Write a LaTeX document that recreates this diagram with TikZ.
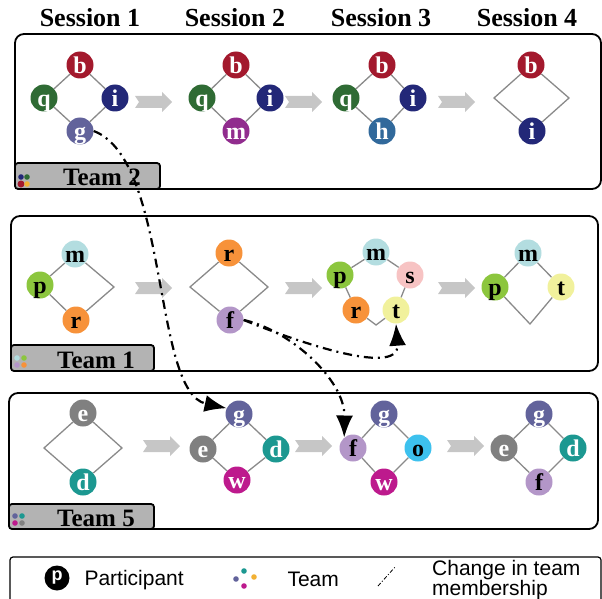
\documentclass[tikz,border=0pt]{standalone}
\usepackage{fontspec}
\setmainfont{Liberation Serif}
\setsansfont{Liberation Sans}
\usepackage{tikz}
\usetikzlibrary{arrows.meta}

\definecolor{pB}{HTML}{A3192D}
\definecolor{pQ}{HTML}{2F6B34}
\definecolor{pI}{HTML}{232878}
\definecolor{pG}{HTML}{62639B}
\definecolor{pMb}{HTML}{912C8E}
\definecolor{pH}{HTML}{31699B}
\definecolor{pM}{HTML}{B3DDE0}
\definecolor{pP}{HTML}{8CC63E}
\definecolor{pR}{HTML}{F7923A}
\definecolor{pF}{HTML}{B396C8}
\definecolor{pS}{HTML}{F7C3C3}
\definecolor{pT}{HTML}{F1F19C}
\definecolor{pE}{HTML}{808080}
\definecolor{pD}{HTML}{1C9891}
\definecolor{pW}{HTML}{BD1A8D}
\definecolor{pO}{HTML}{3DC1EE}
\definecolor{pY}{HTML}{F2B134}
\definecolor{ringgray}{HTML}{8A8A8A}
\definecolor{taggray}{HTML}{B3B3B3}
\definecolor{flowgray}{HTML}{C6C6C6}

\tikzset{
  member/.style={circle, minimum size=27pt, inner sep=0pt, text height=16.5pt, text depth=0pt,
    font=\fontsize{24}{24}\selectfont\bfseries},
  dk/.style={member, text=white},
  lt/.style={member, text=black},
  ring/.style={draw=ringgray, line width=1.3pt},
  teambox/.style={draw=black, line width=1.8pt, rounded corners=9pt},
  teamtag/.style={draw=black, fill=taggray, line width=1.8pt, rounded corners=3pt},
  tagtext/.style={anchor=base, font=\fontsize{25}{25}\selectfont\bfseries},
  header/.style={anchor=base, font=\fontsize{26}{26}\selectfont\bfseries},
  keytext/.style={anchor=base west, font=\sffamily\fontsize{21}{21}\selectfont},
  moved/.style={black, line width=2.2pt, dash pattern=on 9pt off 5pt on 2pt off 5pt,
    -{Latex[length=22pt,width=17pt]}},
}

\begin{document}
\begin{tikzpicture}[x=1pt, y=-1pt]
\useasboundingbox (0,0) rectangle (602,599);

\node[header] (s-1) at (90,27) {Session 1};
\node[header] (s-2) at (235,27) {Session 2};
\node[header] (s-3) at (381,27) {Session 3};
\node[header] (s-4) at (527,27) {Session 4};

% team boxes
\draw[teambox] (15,34) rectangle (601,189);
\draw[teambox] (11,216) rectangle (598,371);
\draw[teambox] (9,393) rectangle (598,529);

\draw[teamtag] (15,163) rectangle (160,189);
\draw[teamtag] (11,345) rectangle (154,371);
\draw[teamtag] (9,504) rectangle (154,529);
\node[tagtext] (tag-2) at (102,185) {Team 2};
\node[tagtext] (tag-1) at (96,368) {Team 1};
\node[tagtext] (tag-5) at (96,526) {Team 5};

\foreach \c/\x/\y/\rr in {pI/21/177/2.8, pQ/27/177/2.8, pB/21/184/3.5, pY/27/184/2.8,
                         pM/17/358/2.8, pP/24/358/2.8, pF/17/365/2.8, pR/24/365/2.8,
                         pG/15/516/2.8, pD/22/516/2.8, pW/15/523/2.8, pE/22/523/2.8}
  \fill[\c] (\x,\y) circle (\rr);

% session arrows
\foreach \x/\y in {135/102, 285/102, 438/102, 135/288, 285/288, 438/288, 143/446, 295/446, 447/446}
  \fill[flowgray] (\x,\y) +(0,-6) -- +(27,-6) -- +(27,-10) -- +(37,0) -- +(27,10) -- +(27,6) -- +(0,6) -- +(4,0) -- cycle;

% team 2
\node[dk, fill=pB] (b-2-1) at (80,65) {b};
\node[dk, fill=pQ] (q-2-1) at (44,98) {q};
\node[dk, fill=pI] (i-2-1) at (115,98) {i};
\node[dk, fill=pG] (g-2-1) at (80,131) {g};
\draw[ring] (b-2-1) -- (i-2-1) -- (g-2-1) -- (q-2-1) -- (b-2-1);

\node[dk, fill=pB] (b-2-2) at (236,65) {b};
\node[dk, fill=pQ] (q-2-2) at (202,98) {q};
\node[dk, fill=pI] (i-2-2) at (270,98) {i};
\node[dk, fill=pMb] (m-2-2) at (236,131) {m};
\draw[ring] (b-2-2) -- (i-2-2) -- (m-2-2) -- (q-2-2) -- (b-2-2);

\node[dk, fill=pB] (b-2-3) at (382,65) {b};
\node[dk, fill=pQ] (q-2-3) at (346,98) {q};
\node[dk, fill=pI] (i-2-3) at (413,98) {i};
\node[dk, fill=pH] (h-2-3) at (382,131) {h};
\draw[ring] (b-2-3) -- (i-2-3) -- (h-2-3) -- (q-2-3) -- (b-2-3);

\node[dk, fill=pB] (b-2-4) at (531,65) {b};
\node[dk, fill=pI] (i-2-4) at (532,131) {i};
\coordinate (cw-2-4) at (494,98);
\coordinate (ce-2-4) at (569,98);
\draw[ring] (b-2-4) -- (ce-2-4) -- (i-2-4) -- (cw-2-4) -- (b-2-4);

% team 1
\node[lt, fill=pM] (m-1-1) at (75,254) {m};
\node[lt, fill=pP] (p-1-1) at (40,285) {p};
\node[lt, fill=pR] (r-1-1) at (76,320) {r};
\coordinate (ce-1-1) at (114,287);
\draw[ring] (m-1-1) -- (ce-1-1) -- (r-1-1) -- (p-1-1) -- (m-1-1);

\node[lt, fill=pR] (r-1-2) at (229,253) {r};
\node[lt, fill=pF] (f-1-2) at (230,320) {f};
\coordinate (cw-1-2) at (190,287);
\coordinate (ce-1-2) at (268,287);
\draw[ring] (r-1-2) -- (ce-1-2) -- (f-1-2) -- (cw-1-2) -- (r-1-2);

\node[lt, fill=pM] (m-1-3) at (376,252) {m};
\node[lt, fill=pP] (p-1-3) at (340,275) {p};
\node[lt, fill=pS] (s-1-3) at (410,275) {s};
\node[lt, fill=pR] (r-1-3) at (356,310) {r};
\node[lt, fill=pT] (t-1-3) at (396,310) {t};
\coordinate (bot-1-3) at (376,325);
\draw[ring] (m-1-3) -- (s-1-3) -- (t-1-3) -- (bot-1-3) -- (r-1-3) -- (p-1-3) -- (m-1-3);

\node[lt, fill=pM] (m-1-4) at (528,253) {m};
\node[lt, fill=pP] (p-1-4) at (495,287) {p};
\node[lt, fill=pT] (t-1-4) at (561,287) {t};
\coordinate (bot-1-4) at (530,324);
\draw[ring] (m-1-4) -- (t-1-4) -- (bot-1-4) -- (p-1-4) -- (m-1-4);

% team 5
\node[dk, fill=pE] (e-5-1) at (83,413) {e};
\node[dk, fill=pD] (d-5-1) at (83,482) {d};
\coordinate (cw-5-1) at (44,448);
\coordinate (ce-5-1) at (122,448);
\draw[ring] (e-5-1) -- (ce-5-1) -- (d-5-1) -- (cw-5-1) -- (e-5-1);

\node[dk, fill=pG] (g-5-2) at (239,414) {g};
\node[dk, fill=pE] (e-5-2) at (203,449) {e};
\node[dk, fill=pD] (d-5-2) at (276,449) {d};
\node[dk, fill=pW] (w-5-2) at (237,480) {w};
\draw[ring] (g-5-2) -- (d-5-2) -- (w-5-2) -- (e-5-2) -- (g-5-2);

\node[dk, fill=pG] (g-5-3) at (384,414) {g};
\node[lt, fill=pF] (f-5-3) at (353,448) {f};
\node[lt, fill=pO] (o-5-3) at (418,448) {o};
\node[dk, fill=pW] (w-5-3) at (384,482) {w};
\draw[ring] (g-5-3) -- (o-5-3) -- (w-5-3) -- (f-5-3) -- (g-5-3);

\node[dk, fill=pG] (g-5-4) at (539,414) {g};
\node[dk, fill=pE] (e-5-4) at (504,448) {e};
\node[dk, fill=pD] (d-5-4) at (573,448) {d};
\node[lt, fill=pF] (f-5-4) at (539,482) {f};
\draw[ring] (g-5-4) -- (d-5-4) -- (f-5-4) -- (e-5-4) -- (g-5-4);

% membership changes
\draw[moved] (g-2-1.east) .. controls (170,160) and (152,392) .. (g-5-2.155);
\draw[moved] (f-1-2.east) .. controls (290,330) and (345,380) .. (f-5-3.130);
\draw[moved] (f-1-2.east) .. controls (280,335) and (400,380) .. (t-1-3.south);

% legend
\draw[line width=1.2pt, rounded corners=3pt] (10,557) rectangle (601,606);
\node[circle, fill=black, minimum size=25pt, inner sep=0pt, text=white,
  font=\sffamily\bfseries\fontsize{18}{18}\selectfont] (key-p) at (57,578) {p};
\node[keytext] (key-ptxt) at (81,585) {Participant};
\foreach \c/\x/\y in {pG/236/579, pD/244/571, pY/254/577, pW/244/586}
  \fill[\c] (\x,\y) circle (2.8);
\node[keytext] (key-team) at (284,586) {Team};
\coordinate (key-a) at (378,586);
\coordinate (key-b) at (396,566);
\draw[line width=0.8pt, dash pattern=on 4pt off 2pt on 1pt off 2pt] (key-a) -- (key-b);
\node[anchor=west, align=left, inner sep=0pt, font=\sffamily\fontsize{21}{17}\selectfont] (key-change) at (432,580) {Change in team\\membership};
\end{tikzpicture}
\end{document}
